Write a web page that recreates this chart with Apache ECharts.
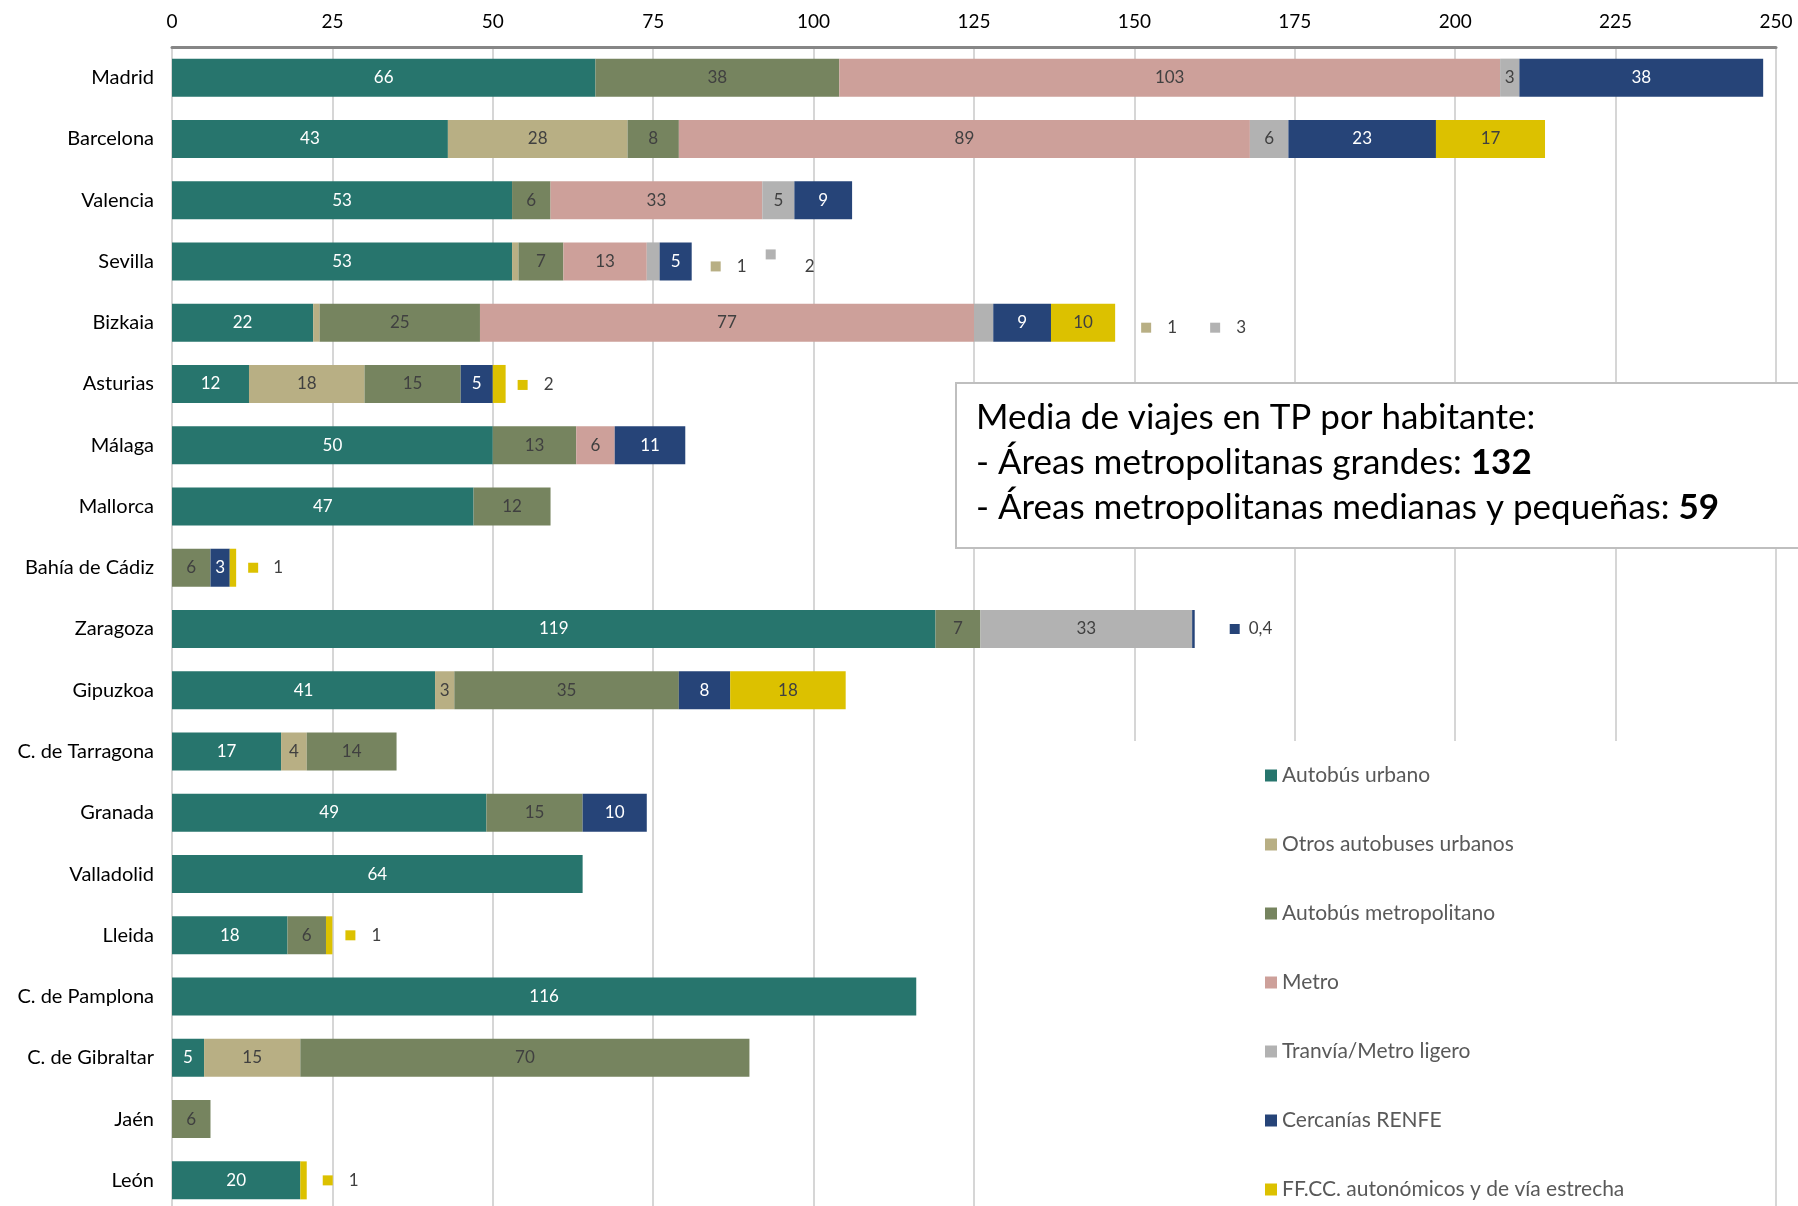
<!DOCTYPE html>
<html>
<head>
<meta charset="utf-8">
<script src="https://cdn.jsdelivr.net/npm/echarts@6/dist/echarts.min.js"></script>
<style>
  html, body { margin: 0; padding: 0; background: #ffffff; overflow: hidden; }
  #chart { width: 1798px; height: 1216px; }
</style>
</head>
<body>
<div id="chart"></div>
<script>
// Viajes en transporte público por habitante, por área metropolitana y modo
const categories = ['Madrid', 'Barcelona', 'Valencia', 'Sevilla', 'Bizkaia', 'Asturias', 'Málaga', 'Mallorca',
  'Bahía de Cádiz', 'Zaragoza', 'Gipuzkoa', 'C. de Tarragona', 'Granada', 'Valladolid', 'Lleida',
  'C. de Pamplona', 'C. de Gibraltar', 'Jaén', 'León'];

const autobusUrbano        = [66, 43, 53, 53, 22, 12, 50, 47, 0, 119, 41, 17, 49, 64, 18, 116, 5, 0, 20];
const otrosAutobuses       = [0, 28, 0, 1, 1, 18, 0, 0, 0, 0, 3, 4, 0, 0, 0, 0, 15, 0, 0];
const autobusMetropolitano = [38, 8, 6, 7, 25, 15, 13, 12, 6, 7, 35, 14, 15, 0, 6, 0, 70, 6, 0];
const metro                = [103, 89, 33, 13, 77, 0, 6, 0, 0, 0, 0, 0, 0, 0, 0, 0, 0, 0, 0];
const tranvia              = [3, 6, 5, 2, 3, 0, 0, 0, 0, 33, 0, 0, 0, 0, 0, 0, 0, 0, 0];
const cercanias            = [38, 23, 9, 5, 9, 5, 11, 0, 3, 0.4, 8, 0, 10, 0, 0, 0, 0, 0, 0];
const ffcc                 = [0, 17, 0, 0, 10, 2, 0, 0, 1, 0, 18, 0, 0, 0, 1, 0, 0, 0, 1];

const seriesNames = ['Autobús urbano', 'Otros autobuses urbanos', 'Autobús metropolitano', 'Metro',
  'Tranvía/Metro ligero', 'Cercanías RENFE', 'FF.CC. autonómicos y de vía estrecha'];

const xTicks = [0, 250, 25]; // min, max, interval

const mediaGrandes = 132;
const mediaMedianas = 59;

// ---- styling ----
const colors = ['#27756d', '#b8af84', '#76845f', '#cda09a', '#b2b2b2', '#264478', '#dcc100'];
const labelColors = ['#ffffff', '#404040', '#404040', '#404040', '#404040', '#ffffff', '#404040'];
const FONT = 'Lato, "Noto Sans", sans-serif';

const gridLeft = 172, gridTop = 47, gridWidth = 1604, gridHeight = 1164;
const ppu = gridWidth / (xTicks[1] - xTicks[0]);

// Small segments whose value is written beside the bar, with a colour key
const outside = [
  { cat: 'Sevilla', s: 1, gap: 19, dy: 5, tgap: 16 },
  { cat: 'Sevilla', s: 4, gap: 74, dy: 5, tgap: 29, raised: true },
  { cat: 'Bizkaia', s: 1, gap: 26, dy: 5, tgap: 16 },
  { cat: 'Bizkaia', s: 4, gap: 95, dy: 5, tgap: 16 },
  { cat: 'Asturias', s: 6, gap: 12, dy: 1, tgap: 16 },
  { cat: 'Bahía de Cádiz', s: 6, gap: 12, dy: 0, tgap: 15 },
  { cat: 'Zaragoza', s: 5, gap: 35, dy: 0, tgap: 9 },
  { cat: 'Lleida', s: 6, gap: 13, dy: 0, tgap: 16 },
  { cat: 'León', s: 6, gap: 16, dy: 0, tgap: 16 }
];

const seriesValues = [autobusUrbano, otrosAutobuses, autobusMetropolitano, metro, tranvia, cercanias, ffcc];

function fmt(v) { return String(v).replace('.', ','); }

const totals = categories.map((c, i) => seriesValues.reduce((a, arr) => a + arr[i], 0));

function findOutside(s, i) {
  return outside.find(d => d.s === s && d.cat === categories[i]);
}

const series = seriesValues.map((arr, s) => {
  const data = arr.map((v, i) => {
    const o = findOutside(s, i);
    if (!o) return v;
    const key = o.raised ? 'mu' : 'm';
    return {
      value: v,
      label: {
        position: 'right',
        distance: 0,
        formatter: '{' + key + '|}{t' + o.tgap + '|' + fmt(v) + '}'
      }
    };
  });
  const rich = {
    m: { width: 10, height: 10, backgroundColor: colors[s] },
    mu: { width: 10, height: 10, backgroundColor: colors[s], verticalAlign: 'top' }
  };
  [9, 15, 16, 29].forEach(g => {
    rich['t' + g] = { padding: [0, 0, 0, g], fontSize: 17, fontFamily: FONT, color: '#404040', lineHeight: g === 29 ? 34 : 20 };
  });
  return {
    name: seriesNames[s],
    type: 'bar',
    stack: 'total',
    barWidth: 38,
    data: data,
    itemStyle: { color: colors[s] },
    label: {
      show: true,
      position: 'inside',
      fontSize: 17,
      fontFamily: FONT,
      color: labelColors[s],
      formatter: p => (p.value ? fmt(p.value) : ''),
      rich: rich
    },
    // shift the side labels past the end of the whole bar
    labelLayout: function (params) {
      const o = findOutside(params.seriesIndex, params.dataIndex);
      if (!o) return {};
      const i = params.dataIndex;
      let cumEnd = 0;
      for (let k = 0; k <= params.seriesIndex; k++) cumEnd += seriesValues[k][i];
      return { dx: (totals[i] - cumEnd) * ppu + o.gap, dy: o.dy, hideOverlap: false };
    }
  };
});

const chart = echarts.init(document.getElementById('chart'), null, { renderer: 'canvas' });

chart.setOption({
  backgroundColor: '#ffffff',
  animation: false,
  textStyle: { fontFamily: FONT },
  grid: { left: gridLeft, top: gridTop, width: gridWidth, height: gridHeight, containLabel: false },
  xAxis: {
    type: 'value',
    position: 'top',
    min: xTicks[0],
    max: xTicks[1],
    interval: xTicks[2],
    axisLine: { show: true, lineStyle: { color: '#868686', width: 3 } },
    axisTick: { show: false },
    axisLabel: { fontSize: 19, color: '#000000', fontFamily: FONT, margin: 16 },
    splitLine: { show: true, lineStyle: { color: '#d6d6d6', width: 2 } }
  },
  yAxis: {
    type: 'category',
    inverse: true,
    data: categories,
    axisLine: { show: true, lineStyle: { color: '#d6d6d6', width: 2 } },
    axisTick: { show: false },
    axisLabel: { fontSize: 20, color: '#000000', fontFamily: FONT, margin: 18 }
  },
  legend: {
    orient: 'vertical',
    left: 1265,
    top: 765,
    icon: 'rect',
    itemWidth: 12,
    itemHeight: 12,
    itemGap: 48,
    padding: 0,
    textStyle: { fontSize: 21, color: '#595959', fontFamily: FONT, lineHeight: 20 },
    data: seriesNames
  },
  graphic: [
    {
      type: 'rect',
      z: 1,
      shape: { x: 1000, y: 741, width: 772, height: 480 },
      style: { fill: '#ffffff' }
    },
    {
      type: 'rect',
      z: 10,
      shape: { x: 956, y: 383, width: 900, height: 165 },
      style: { fill: '#ffffff', stroke: '#bfbfbf', lineWidth: 2 }
    },
    {
      type: 'text',
      z: 11,
      x: 976,
      y: 395,
      style: {
        text: 'Media de viajes en TP por habitante:\n- Áreas metropolitanas grandes: {b|' + mediaGrandes +
          '}\n- Áreas metropolitanas medianas y pequeñas: {b|' + mediaMedianas + '}',
        fontSize: 35,
        fontFamily: FONT,
        lineHeight: 45,
        fill: '#000000',
        verticalAlign: 'top',
        rich: { b: { fontWeight: 'bold', fontSize: 35, fontFamily: FONT, lineHeight: 45 } }
      }
    }
  ],
  series: series
});
</script>
</body>
</html>
